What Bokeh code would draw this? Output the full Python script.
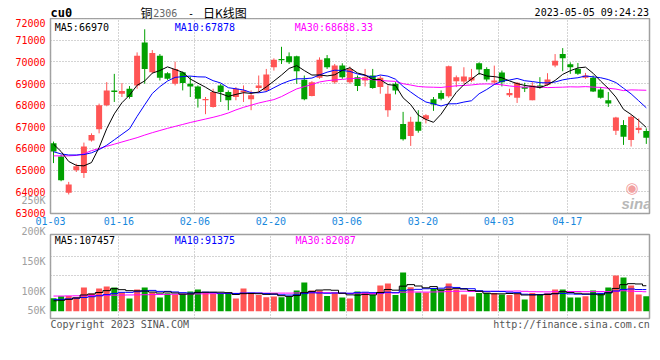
import numpy as np
from bokeh.plotting import figure
from bokeh.models import (Range1d, FixedTicker, Label, Grid, ColumnDataSource, GridBox,
                          Spacer)
from bokeh.embed import file_html
from bokeh.resources import INLINE

# ---------------- data ----------------
date_labels = ["01-03", "01-16", "02-06", "02-20", "03-06", "03-20", "04-03", "04-17"]
date_index = [0, 9, 19, 29, 39, 49, 59, 68]

price_ticks = [63000, 64000, 65000, 66000, 67000, 68000, 69000, 70000, 71000, 72000]
vol_tick_labels = ["50K", "100K", "150K", "200K", "250K"]
footer_texts = ["Copyright 2023 SINA.COM", "http://finance.sina.com.cn"]

open_ = [66242, 65632, 63955, 64992, 64870, 66364, 66883, 67996, 68682, 68530,
         68758, 68911, 70893, 69521, 70284, 69475, 68987, 69521, 68987, 68865,
         68225, 67920, 68911, 68606, 68377, 68591, 68270, 68789, 68682, 69750,
         70131, 70253, 70253, 69170, 68423, 69262, 70161, 69063, 69826, 69063,
         69292, 69140, 69369, 68835, 67767, 68987, 67127, 66578, 67233, 67355,
         68270, 68560, 68408, 69109, 69094, 69140, 69933, 69673, 69048, 69506,
         68453, 68347, 68835, 68225, 68911, 68941, 69826, 70360, 69887, 69673,
         69262, 69262, 68728, 68225, 66822, 67081, 66395, 66852, 66806]
high = [66318, 65708, 64458, 65297, 66273, 66700, 68072, 69063, 69445, 69018,
        68880, 70436, 71503, 70543, 70360, 69521, 70009, 69551, 69323, 68911,
        68377, 68758, 68987, 68682, 68835, 68911, 68682, 69369, 69673, 70161,
        70695, 70436, 70284, 69369, 69109, 70207, 70314, 69902, 69933, 69780,
        69369, 69673, 69673, 69369, 68911, 69063, 67691, 67462, 67767, 67584,
        68377, 68682, 69826, 69369, 69750, 69673, 69978, 69750, 69826, 69597,
        68758, 69063, 69033, 69063, 69292, 69475, 70360, 70634, 69978, 69948,
        69490, 69369, 68835, 68606, 67462, 67310, 67538, 67386, 66928]
low = [65327, 64488, 63878, 64915, 64641, 66318, 66700, 67950, 68148, 68377,
       68301, 68758, 68987, 69475, 69140, 69170, 68911, 68682, 68377, 67889,
       67584, 67889, 68148, 67767, 68225, 68148, 67767, 68606, 68606, 69597,
       69902, 69902, 68987, 68225, 68407, 69216, 69673, 68987, 69216, 68987,
       68652, 68865, 68758, 68530, 67462, 68499, 66364, 66120, 66730, 67157,
       67737, 68225, 68347, 68835, 68987, 69063, 69399, 69094, 68987, 68865,
       68377, 68103, 68606, 68225, 68758, 68896, 69750, 69567, 69445, 69399,
       69216, 68606, 68301, 67920, 66624, 66166, 66090, 66700, 66212]
close = [65861, 64534, 64336, 65175, 66090, 66623, 67996, 68682, 68606, 68652,
         68377, 70284, 69673, 70405, 69262, 69216, 69673, 69018, 68865, 68301,
         68286, 68606, 68606, 68225, 68758, 68682, 68453, 68911, 69414, 70100,
         70070, 69978, 69567, 68270, 69063, 70100, 69750, 69826, 69292, 69673,
         68880, 69292, 68789, 69262, 68530, 68682, 66425, 67233, 66822, 67538,
         68026, 68301, 69796, 69292, 69323, 69292, 69643, 69185, 69140, 69063,
         68560, 69033, 68758, 68911, 68804, 69185, 70055, 70162, 69750, 69445,
         69369, 68636, 68347, 68072, 67432, 66547, 67462, 66959, 66501]

ma5 = [66200, 65860, 65400, 65220, 65199, 65351, 66044, 66913, 67599, 68111,
       68462, 68920, 69118, 69478, 69600, 69768, 69646, 69515, 69207, 69015,
       68829, 68616, 68533, 68405, 68497, 68576, 68545, 68606, 68844, 69112,
       69390, 69695, 69826, 69597, 69390, 69396, 69350, 69402, 69606, 69728,
       69484, 69393, 69185, 69179, 68951, 68911, 68338, 68027, 67539, 67340,
       67209, 67584, 68097, 68591, 68948, 69201, 69470, 69347, 69317, 69265,
       69119, 68997, 68911, 68865, 68813, 68938, 69143, 69423, 69591, 69719,
       69756, 69472, 69109, 68774, 68371, 67807, 67572, 67294, 66970]
ma10 = [65850, 65750, 65700, 65700, 65720, 65800, 65950, 66150, 66400, 66656,
        66907, 67482, 68016, 68539, 68856, 69115, 69283, 69317, 69343, 69308,
        69299, 69131, 69024, 68806, 68756, 68703, 68581, 68570, 68625, 68805,
        68983, 69120, 69216, 69221, 69251, 69393, 69523, 69614, 69602, 69559,
        69440, 69372, 69294, 69393, 69340, 69198, 68866, 68606, 68359, 68146,
        68060, 67961, 68062, 68065, 68144, 68205, 68527, 68722, 68954, 69106,
        69160, 69233, 69129, 69091, 69039, 69028, 69069, 69167, 69228, 69266,
        69347, 69307, 69266, 69182, 69045, 68781, 68522, 68202, 67878]
ma30 = [65660, 65660, 65660, 65680, 65760, 65900, 66000, 66100, 66200, 66300,
        66400, 66500, 66620, 66730, 66830, 66930, 67020, 67110, 67200, 67280,
        67360, 67440, 67530, 67640, 67780, 67900, 68000, 68100, 68180, 68256,
        68396, 68578, 68752, 68855, 68954, 69070, 69129, 69167, 69190, 69224,
        69241, 69208, 69178, 69140, 69116, 69098, 68990, 68930, 68862, 68837,
        68828, 68818, 68858, 68893, 68912, 68932, 68972, 68981, 68972, 68937,
        68887, 68855, 68828, 68850, 68841, 68811, 68821, 68832, 68847, 68840,
        68856, 68834, 68819, 68780, 68743, 68672, 68706, 68697, 68688]

volume = [54900, 63300, 64600, 59100, 100000, 74700, 95800, 104200, 100000, 78900,
          53600, 91600, 100000, 78900, 57800, 76000, 70500, 74700, 83100, 91600,
          78900, 73000, 73000, 73000, 53600, 95800, 76000, 68800, 59100, 62000,
          59100, 60300, 87400, 121100, 87400, 87400, 64600, 78900, 57800, 53600,
          83100, 78900, 68800, 108500, 116900, 68800, 163300, 101300, 78900, 78900,
          94100, 91600, 116900, 91600, 70500, 62000, 77200, 77200, 77200, 70500,
          68800, 73000, 49400, 77200, 73000, 77200, 91600, 91600, 57800, 57800,
          63300, 87400, 77200, 100000, 150700, 142200, 108500, 70500, 63300]
vol_ma5 = [44000, 46000, 50000, 56000, 68400, 72400, 78900, 86800, 95000, 90800,
           86600, 85800, 85000, 80800, 76600, 81100, 76900, 71800, 72600, 79400,
           80000, 80500, 80200, 78200, 70600, 74000, 74600, 73800, 71000, 72700,
           65400, 62300, 66000, 78400, 83500, 89200, 90100, 88400, 75700, 68900,
           68000, 70900, 68900, 79000, 91700, 88800, 105700, 112200, 106300, 98700,
           103800, 89500, 92600, 95100, 93400, 87000, 84100, 76200, 73300, 73300,
           74700, 73900, 68300, 68300, 68800, 70500, 74200, 82600, 78700, 75700,
           72900, 72100, 69200, 77600, 96200, 112000, 116200, 114900, 107457]
vol_ma10 = [49000, 50000, 52000, 55000, 58000, 61000, 65000, 70000, 75000, 79600,
            79500, 82300, 85800, 87800, 83600, 83700, 81200, 78200, 76500, 77800,
            80300, 78400, 75700, 75100, 74700, 76700, 77300, 76700, 74300, 71300,
            69300, 68000, 69400, 74200, 77600, 76800, 75700, 76700, 76600, 75800,
            78200, 80100, 78200, 76900, 79900, 78000, 87900, 90100, 92200, 94700,
            95800, 97100, 101900, 100200, 95600, 94900, 86300, 83900, 83700, 82900,
            80400, 78500, 71700, 70300, 70600, 72100, 73500, 74900, 73000, 71700,
            71100, 72500, 75300, 77600, 85400, 91900, 93600, 91500, 91375]
vol_ma30 = [64000, 64000, 64500, 65000, 65500, 66000, 66500, 67000, 67500, 68000,
            68500, 69000, 69500, 70000, 70500, 71000, 71500, 72000, 72500, 73000,
            73500, 74000, 74500, 75000, 75200, 75500, 75800, 76000, 76100, 76200,
            76400, 76300, 77000, 79100, 78700, 79100, 78100, 77200, 75800, 75000,
            76000, 75500, 74500, 75500, 77400, 77200, 80300, 81200, 81000, 80600,
            81100, 81700, 83200, 83800, 84400, 83200, 83300, 83500, 84100, 84400,
            84700, 85200, 83900, 82400, 82000, 81600, 82500, 83000, 83000, 83100,
            82400, 82700, 83000, 82700, 83800, 86300, 84500, 83400, 82087]

# ---------------- layout / style constants ----------------
MONO = "DejaVu Sans Mono"
CJK = "Noto Sans CJK SC"
RED = "#ff5555"
GREEN = "#00a000"
GRID = "#a8a8a8"
FRAME = "#a0a0a0"
PITCH = 7.6                 # px per trading day
FW = 599                    # frame width px
CW = 652                    # canvas width
FL = 50                     # frame left
FR = FL + FW                # frame right
OFF = 3.0 / PITCH
X_END = FW / PITCH
P_LO, P_HI = 62999, 72001
H0 = 18                     # title row height
FH1 = 195
BOT1 = 15
H1 = FH1 + BOT1             # 210
P1_BOT_REF = H0 + FH1       # 213
V_PER_PX = 4220.0
V_BASE_REF = 310.7
TOP2 = 6
FH2 = 84
BOT2 = 14
H2 = TOP2 + FH2 + BOT2      # 104
P2_TOP_REF = H0 + H1 + TOP2  # 234
P2_BOT_REF = P2_TOP_REF + FH2
V_HI = (V_BASE_REF - P2_TOP_REF) * V_PER_PX
V_LO = (V_BASE_REF - P2_BOT_REF) * V_PER_PX
TITLE_SHIFT = 3.0           # title overlay frame starts a little below its top


def vy(ref_y):
    return (V_BASE_REF - ref_y) * V_PER_PX


n = len(close)
x = np.arange(n) + OFF
o = np.array(open_, dtype=float)
c = np.array(close, dtype=float)
up = c >= o
colors = [RED if u else GREEN for u in up]
btop = np.maximum(o, c)
bbot = np.minimum(o, c)
min_body = (P_HI - P_LO) / FH1 * 1.0
small = (btop - bbot) < min_body
mid = (btop + bbot) / 2
btop = np.where(small, mid + min_body / 2, btop)
bbot = np.where(small, mid - min_body / 2, bbot)

src = ColumnDataSource(dict(x=x, h=high, l=low, top=btop, bot=bbot, color=colors,
                            ma5=ma5, ma10=ma10, ma30=ma30, vol=volume,
                            vma5=vol_ma5, vma10=vol_ma10, vma30=vol_ma30))


def style_axis(ax, color):
    ax.axis_line_color = None
    ax.major_tick_line_color = None
    ax.minor_tick_line_color = None
    ax.major_tick_out = 0
    ax.major_tick_in = 0
    ax.minor_tick_out = 0
    ax.major_label_text_font = MONO
    ax.major_label_text_font_size = "10px"
    ax.major_label_text_color = color


def add_label(p, xx, yy, text, color="black", size="10px", font=MONO, align="left",
              baseline="alphabetic", style="normal"):
    p.add_layout(Label(x=xx, y=yy, text=text, text_color=color, text_font=font,
                       text_font_size=size, text_align=align, text_baseline=baseline,
                       text_font_style=style))


# ---------------- price panel ----------------
p1 = figure(frame_width=FW, frame_height=FH1, x_range=Range1d(-0.001, X_END),
            y_range=Range1d(P_LO, P_HI), min_border_left=FL, min_border_right=CW - FR,
            min_border_top=0, min_border_bottom=BOT1, output_backend="svg",
            toolbar_location=None, outline_line_color=FRAME, outline_line_width=1.5,
            background_fill_color="white", border_fill_color="white")

style_axis(p1.yaxis[0], "#ff0000")
p1.yaxis.ticker = FixedTicker(ticks=price_ticks)
p1.yaxis.major_label_standoff = 5
style_axis(p1.xaxis[0], "#1888dd")
p1.xaxis.ticker = FixedTicker(ticks=date_index)
p1.xaxis.major_label_overrides = {k: v for k, v in zip(date_index, date_labels)}
p1.xaxis.major_label_standoff = 3

p1.xgrid.ticker = FixedTicker(ticks=date_index)
p1.ygrid.ticker = FixedTicker(ticks=price_ticks)
for g in (p1.xgrid[0], p1.ygrid[0]):
    g.grid_line_color = GRID
    g.grid_line_dash = "1 2"
    g.grid_line_width = 1

p1.segment(x0="x", y0="l", x1="x", y1="h", line_color="color", line_width=1, source=src)
p1.vbar(x="x", width=6 / PITCH, top="top", bottom="bot", fill_color="color",
        line_color=None, source=src)
p1.line("x", "ma30", line_color="#ff00ff", line_width=1, source=src)
p1.line("x", "ma10", line_color="#0000ff", line_width=1, source=src)
p1.line("x", "ma5", line_color="black", line_width=1, source=src)

# ---------------- volume panel ----------------
p2 = figure(frame_width=FW, frame_height=FH2, x_range=p1.x_range,
            y_range=Range1d(V_LO, V_HI), x_axis_type=None,
            min_border_left=FL, min_border_right=CW - FR, min_border_top=TOP2,
            min_border_bottom=BOT2, output_backend="svg", toolbar_location=None,
            outline_line_color=FRAME, outline_line_width=1.5,
            background_fill_color="white", border_fill_color="white")

vt = [vy(310.0), vy(290.7), vy(261.0)]
style_axis(p2.yaxis[0], "#a0a0a0")
p2.yaxis.ticker = FixedTicker(ticks=vt)
p2.yaxis.major_label_overrides = {vt[0]: vol_tick_labels[0], vt[1]: vol_tick_labels[1],
                                  vt[2]: vol_tick_labels[2]}
p2.yaxis.major_label_standoff = 5
p2.ygrid.ticker = FixedTicker(ticks=[vy(275.0), vy(255.7)])
p2.ygrid.grid_line_color = GRID
p2.ygrid.grid_line_dash = "1 2"
p2.add_layout(Grid(dimension=0, ticker=FixedTicker(ticks=date_index),
                   grid_line_color=GRID, grid_line_dash="1 2"))

p2.vbar(x="x", width=6 / PITCH, top="vol", bottom=0, fill_color="color",
        line_color=None, source=src)
p2.step("x", "vma30", line_color="#ff00ff", line_width=1, mode="center", source=src)
p2.step("x", "vma10", line_color="#0000ff", line_width=1, mode="center", source=src)
p2.step("x", "vma5", line_color="black", line_width=1, mode="center", source=src)

# ---------------- text overlay on both panels (pixel coordinates, y downward) ----------
p3 = figure(width=CW, height=H1 + H2, x_range=Range1d(FL, FR),
            y_range=Range1d(P2_BOT_REF, H0),
            min_border_left=FL, min_border_right=CW - FR, min_border_top=0,
            min_border_bottom=H0 + H1 + H2 - P2_BOT_REF, output_backend="svg",
            toolbar_location=None, outline_line_color=None,
            background_fill_color=None, border_fill_color=None)
p3.xgrid.visible = False
p3.ygrid.visible = False
vtick_px = [201.0, 231.7]
style_axis(p3.yaxis[0], "#a0a0a0")
p3.yaxis.ticker = FixedTicker(ticks=vtick_px)
p3.yaxis.major_label_overrides = {vtick_px[0]: vol_tick_labels[4],
                                  vtick_px[1]: vol_tick_labels[3]}
p3.yaxis.major_label_standoff = 5
ftick_px = [FL + len(footer_texts[0]) * 6.02 / 2, 649.3 - len(footer_texts[1]) * 6.02 / 2]
style_axis(p3.xaxis[0], "#555555")
p3.xaxis.ticker = FixedTicker(ticks=ftick_px)
p3.xaxis.major_label_overrides = {ftick_px[0]: footer_texts[0], ftick_px[1]: footer_texts[1]}
p3.xaxis.major_label_standoff = 1

add_label(p3, 54.3, 26.8, "MA5:66970", "black")
add_label(p3, 174.3, 26.8, "MA10:67878", "#0000ff")
add_label(p3, 294.3, 26.8, "MA30:68688.33", "#ff00ff")
add_label(p3, 54.3, 241.2, "MA5:107457", "black")
add_label(p3, 174.3, 241.2, "MA10:91375", "#0000ff")
add_label(p3, 295.0, 241.2, "MA30:82087", "#ff00ff")
add_label(p3, 631.5, 188.0, "◉", "#f2a0a0", size="15px", font="DejaVu Sans",
          align="center", baseline="middle")
add_label(p3, 621.0, 203.5, "sina", "#b8b8b8", size="15px", font="Liberation Sans",
          style="bold italic")

# ---------------- title overlay (title row + price panel, pixel coords, y downward) ----
p0 = figure(width=CW, height=H0 + H1, x_range=Range1d(FL, FR),
            y_range=Range1d(P1_BOT_REF, 0), x_axis_type=None, y_axis_type=None,
            min_border_left=FL, min_border_right=CW - FR, min_border_top=0,
            min_border_bottom=BOT1, output_backend="svg", toolbar_location=None,
            outline_line_color=None, background_fill_color=None, border_fill_color=None)
ts = TITLE_SHIFT
add_label(p0, 50.0, 15.8 - ts, "cu0", "black", size="12px", style="bold")
add_label(p0, 140.0, 15.4 - ts, "铜", "black", size="12px", font=CJK)
add_label(p0, 152.7, 15.7 - ts, "2306", "#666666")
add_label(p0, 187.5, 15.7 - ts, "-", "black")
add_label(p0, 202.5, 15.4 - ts, "日K线图", "black", size="12px", font=CJK)
add_label(p0, 648.5, 15.2 - ts, "2023-05-05 09:24:23", "black", align="right")

layout = GridBox(children=[(Spacer(width=CW, height=H0), 0, 0), (p1, 1, 0), (p2, 2, 0),
                           (p3, 1, 0, 2, 1), (p0, 0, 0, 2, 1)],
                 spacing=0)
open("out.html", "w").write(file_html(layout, INLINE))
